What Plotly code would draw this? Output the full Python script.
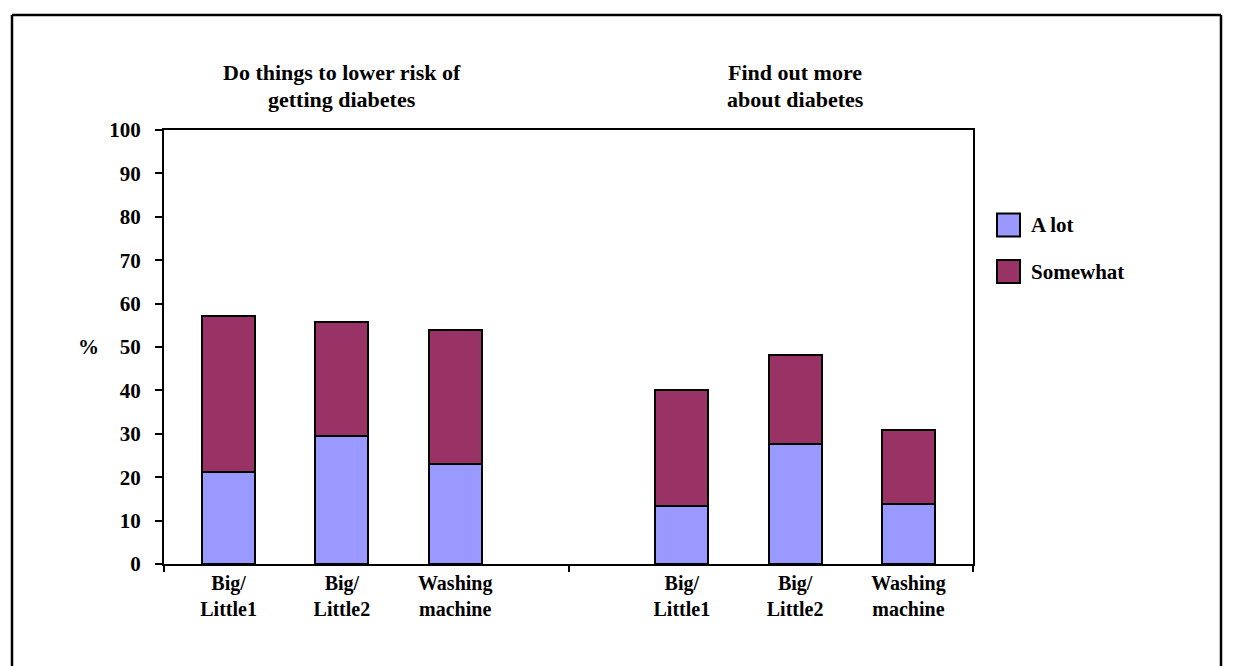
import plotly.graph_objects as go

# ---------------- data ----------------
groups = ["Do things to lower risk of<br>getting diabetes", "Find out more<br>about diabetes"]
products = ["Big/<br>Little1", "Big/<br>Little2", "Washing<br>machine"]
series_names = ["A lot", "Somewhat"]
a_lot = [21.3, 29.5, 23.1, 13.4, 27.7, 13.9]
somewhat = [35.9, 26.2, 30.9, 26.7, 20.5, 17.0]
y_ticks = list(range(0, 101, 10))

# ---------------- layout constants ----------------
W, H = 1233, 666
L, R, T, B = 164, 973, 130, 564
FONT = "Liberation Serif, Times New Roman, serif"
colors = ["#9999FF", "#993366"]

# slot positions: each group has its products, with one empty slot between groups
x_pos, x_lab = [], []
slot = 0
group_centers = []
group_bounds = [-0.57]
for gi, g in enumerate(groups):
    start = slot
    for p in products:
        x_pos.append(slot)
        x_lab.append(p)
        slot += 1
    group_centers.append((start + slot - 1) / 2)
    if gi < len(groups) - 1:
        group_bounds.append(slot)
        slot += 1
x_range = [-0.57, slot - 1 + 0.57]
group_bounds.append(x_range[1])

def px_x(px):
    return (px - L) / (R - L)

def px_y(py):
    return (B - py) / (B - T)

fig = go.Figure()
for name, vals, col in zip(series_names, [a_lot, somewhat], colors):
    fig.add_trace(go.Bar(
        x=x_pos, y=vals, name=name, width=0.467,
        marker=dict(color=col, line=dict(color="black", width=2)),
        showlegend=False,
    ))
# invisible trace for boundary ticks on overlay axis
fig.add_trace(go.Scatter(x=[x_range[0]], y=[0], xaxis="x2", mode="markers",
                         marker=dict(opacity=0), showlegend=False, hoverinfo="skip"))

fig.update_layout(
    width=W, height=H,
    margin=dict(l=L, r=W - R, t=T, b=H - B),
    barmode="stack",
    plot_bgcolor="white", paper_bgcolor="white",
    font=dict(family=FONT, size=20, color="black"),
    xaxis=dict(
        range=x_range, tickvals=x_pos, ticktext=x_lab, ticks="",
        showline=True, linecolor="black", linewidth=2, mirror=True,
        showgrid=False, zeroline=False,
        tickfont=dict(family=FONT, size=20, color="black", weight="bold"),
    ),
    xaxis2=dict(
        overlaying="x", matches="x", side="bottom", range=x_range,
        tickvals=group_bounds, ticks="outside", ticklen=7, tickwidth=1.5,
        tickcolor="black", showticklabels=False, showgrid=False, zeroline=False,
        showline=False,
    ),
    yaxis=dict(
        range=[0, 100], tickvals=y_ticks, ticks="outside", ticklen=7, tickwidth=1.5,
        tickcolor="black", ticklabelstandoff=10,
        showline=True, linecolor="black", linewidth=2, mirror=True,
        showgrid=False, zeroline=False,
        tickfont=dict(family=FONT, size=21, color="black", weight="bold"),
    ),
    bargap=0,
)

annotations = []
title_line_y = [73, 99]
for g, c in zip(groups, group_centers):
    for line, ly in zip(g.split("<br>"), title_line_y):
        annotations.append(dict(
            x=c, xref="x", y=px_y(ly), yref="paper", text=line, showarrow=False,
            xanchor="center", yanchor="middle", align="center",
            font=dict(family=FONT, size=22, color="black", weight="bold"),
        ))
annotations.append(dict(
    x=px_x(88), xref="paper", y=50, yref="y", text="%", showarrow=False,
    xanchor="center", yanchor="middle",
    font=dict(family=FONT, size=21, color="black", weight="bold"),
))

shapes = []
# manual legend
leg_y = [225, 271.5]
for name, col, cy in zip(series_names, colors, leg_y):
    shapes.append(dict(type="rect", xref="paper", yref="paper",
                       x0=px_x(997), x1=px_x(1020), y0=px_y(cy - 11.5), y1=px_y(cy + 11.5),
                       fillcolor=col, line=dict(color="black", width=2)))
    annotations.append(dict(
        x=px_x(1029), xref="paper", y=px_y(cy), yref="paper", text=name,
        showarrow=False, xanchor="left", yanchor="middle",
        font=dict(family=FONT, size=21, color="black", weight="bold"),
    ))

# outer frame (left, top, right)
frame = [(12, H + 5, 12, 15), (12, 15, 1221, 15), (1221, 15, 1221, H + 5)]
for x0, y0, x1, y1 in frame:
    shapes.append(dict(type="line", xref="paper", yref="paper",
                       x0=px_x(x0), y0=px_y(y0), x1=px_x(x1), y1=px_y(y1),
                       line=dict(color="black", width=2.5)))

fig.update_layout(annotations=annotations, shapes=shapes)
fig.write_html("out.html", config={"displayModeBar": False},
               post_script="document.body.style.margin='0px';document.body.style.overflow='hidden';")
